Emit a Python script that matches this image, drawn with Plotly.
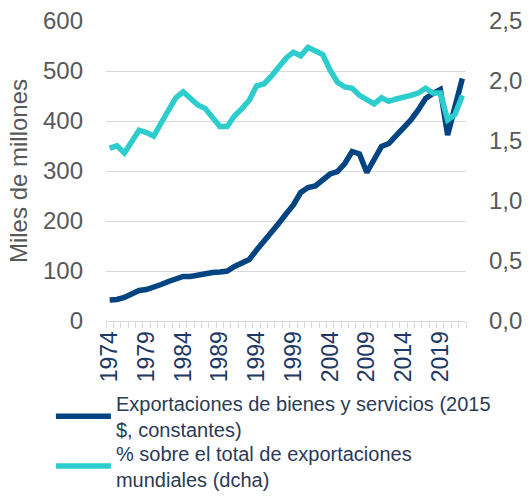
import plotly.graph_objects as go

years = list(range(1974, 2023))
exports_bn = [42, 43, 47, 55, 61, 63, 67, 73, 79, 85, 89, 89, 92, 95, 97, 98, 100,
              109, 115, 123, 142, 159, 174, 195, 214, 232, 257, 267, 270, 281, 294,
              299, 315, 339, 334, 297, 322, 349, 355, 370, 385, 402, 422, 445, 455,
              463, 372, 429, 485]
world_share = [1.44, 1.46, 1.40, 1.49, 1.59, 1.57, 1.54, 1.65, 1.76, 1.86, 1.91, 1.86,
               1.80, 1.77, 1.70, 1.62, 1.62, 1.71, 1.77, 1.84, 1.96, 1.975, 2.04, 2.12,
               2.19, 2.24, 2.21, 2.28, 2.25, 2.22, 2.09, 1.99, 1.95, 1.94, 1.88, 1.85,
               1.81, 1.86, 1.83, 1.85, 1.86, 1.88, 1.90, 1.94, 1.90, 1.90, 1.675, 1.72, 1.88]
left_ticks = [0, 100, 200, 300, 400, 500, 600]
right_ticks = [0, 0.5, 1.0, 1.5, 2.0, 2.5]
right_tick_text = ["0,0", "0,5", "1,0", "1,5", "2,0", "2,5"]

name1 = "Exportaciones de bienes y servicios (2015<br>$, constantes)"
name2 = "% sobre el total de exportaciones<br>mundiales (dcha)"

xcat = [str(y) for y in years]
xtext = [str(y) if (y - 1974) % 5 == 0 else "" for y in years]

fig = go.Figure()
fig.add_trace(go.Scatter(x=xcat, y=exports_bn, name=name1, mode="lines", legend="legend",
                         line=dict(color="#004481", width=5.5)))
fig.add_trace(go.Scatter(x=xcat, y=world_share, name=name2, mode="lines", yaxis="y2",
                         legend="legend2", line=dict(color="#2DCCCD", width=5.5)))

font_family = "Liberation Sans, Arial, sans-serif"
legend_common = dict(xanchor="left", yanchor="top",
                     font=dict(size=20, color="#2B3A55", family=font_family),
                     itemwidth=55, bgcolor="rgba(0,0,0,0)")
fig.update_layout(
    width=531, height=496,
    margin=dict(l=106, r=65, t=21, b=175, autoexpand=False),
    paper_bgcolor="white", plot_bgcolor="white",
    font=dict(family=font_family, size=22, color="#595959"),
    showlegend=True,
    legend=dict(x=-0.153, y=-0.209, **legend_common),
    legend2=dict(x=-0.153, y=-0.375, **legend_common),
    xaxis=dict(type="category", tickvals=xcat, ticktext=xtext, tickangle=-90,
               tickson="boundaries", ticks="outside", ticklen=6, tickcolor="#D9D9D9",
               showline=True, linecolor="#D9D9D9", showgrid=False, automargin=False,
               tickfont=dict(size=23, color="#1F3864"), range=[-0.5, 48.5]),
    yaxis=dict(range=[0, 600], tickvals=left_ticks, showgrid=True, gridcolor="#D9D9D9",
               zeroline=False, ticks="", ticklabelstandoff=22, automargin=False,
               title=dict(text="Miles de millones", standoff=8,
                          font=dict(size=24, color="#595959")),
               tickfont=dict(size=24, color="#595959")),
    yaxis2=dict(range=[0, 2.5], tickvals=right_ticks, ticktext=right_tick_text,
                overlaying="y", side="right", showgrid=False, zeroline=False,
                ticks="", ticklabelstandoff=22, automargin=False,
                tickfont=dict(size=24, color="#595959")),
)

fig.write_html("out.html", config={"displayModeBar": False},
               post_script="document.body.style.margin='0';")
